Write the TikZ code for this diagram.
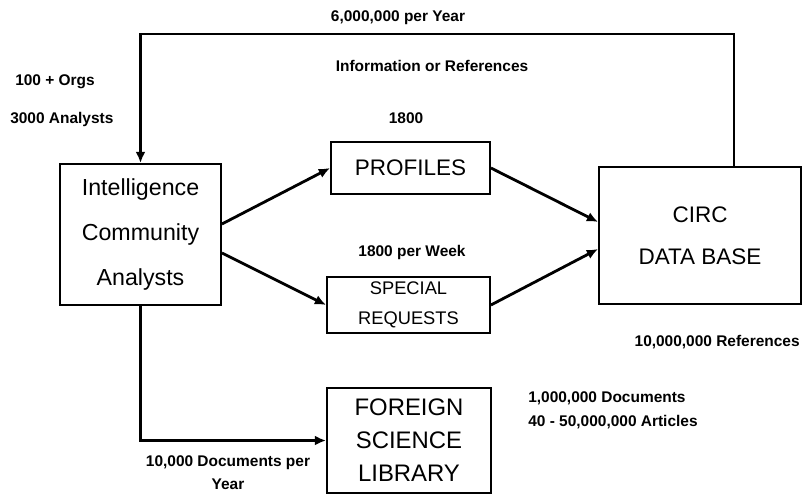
\documentclass[tikz,border=0pt]{standalone}
\usepackage{fontspec}
\setmainfont{Liberation Sans}
\usetikzlibrary{arrows.meta}

\begin{document}
\begin{tikzpicture}[
    boite/.style={draw, line width=1.3pt, align=center, inner sep=0pt},
    lien/.style={line width=2pt, -{Latex[length=8pt,width=7pt]}},
    etiquette/.style={font=\fontsize{11}{16}\selectfont\bfseries, inner sep=0pt, align=center}
]
    % Cadre de l'image
    \useasboundingbox (0,0) rectangle (20.075,12.375);

    % Boites principales
    \node[boite, minimum width=4.025cm, minimum height=3.525cm, font=\fontsize{16.5}{32}\selectfont] (analystes) at (3.5125,6.5125) {Intelligence\\Community\\Analysts};
    \node[boite, minimum width=3.975cm, minimum height=1.3cm, font=\fontsize{16}{18}\selectfont] (profils) at (10.2625,8.175) {PROFILES};
    \node[boite, minimum width=4.075cm, minimum height=1.4cm, font=\fontsize{13}{21}\selectfont] (demandes) at (10.2125,4.75) {SPECIAL\\REQUESTS};
    \node[boite, minimum width=5.05cm, minimum height=3.425cm, font=\fontsize{16}{30}\selectfont] (circ) at (17.5,6.4875) {CIRC\\DATA BASE};
    \node[boite, minimum width=4.1cm, minimum height=2.625cm, font=\fontsize{17}{23.5}\selectfont] (bibli) at (10.225,1.3625) {FOREIGN\\SCIENCE\\LIBRARY};

    % Boucle de retour du haut
    \coordinate (coin) at (18.35,11.525);
    \draw[lien] (circ.north -| coin) -- (coin) -- (coin -| analystes.north) -- (analystes.north);

    % Fleches vers la base
    \draw[lien] ([yshift=0.2625cm]analystes.east) -- (profils.west);
    \draw[lien] ([yshift=-0.4625cm]analystes.east) -- (demandes.west);
    \draw[lien] (profils.east) -- ([yshift=0.3375cm]circ.west);
    \draw[lien] (demandes.east) -- ([yshift=-0.3375cm]circ.west);

    % Fleche vers la bibliotheque
    \draw[lien] (analystes.south) |- (bibli.west);

    % Etiquettes
    \node[etiquette] (annuel) at (9.95,11.925) {6,000,000 per Year};
    \node[etiquette] (info) at (10.8,10.725) {Information or References};
    \node[etiquette, anchor=west] (orgs) at (0.375,10.325) {100 + Orgs};
    \node[etiquette, anchor=west] (nbanalystes) at (0.25,9.375) {3000 Analysts};
    \node[etiquette] (nbprofils) at (10.15,9.425) {1800};
    \node[etiquette] (hebdo) at (10.3,6.075) {1800 per Week};
    \node[etiquette, anchor=east] (refs) at (20.0,3.825) {10,000,000 References};
    \node[etiquette] (docsan) at (5.7,0.56) {10,000 Documents per\\Year};
    \node[etiquette, anchor=west] (docs) at (13.2,2.425) {1,000,000 Documents};
    \node[etiquette, anchor=west] (articles) at (13.2,1.825) {40 - 50,000,000 Articles};
\end{tikzpicture}
\end{document}
